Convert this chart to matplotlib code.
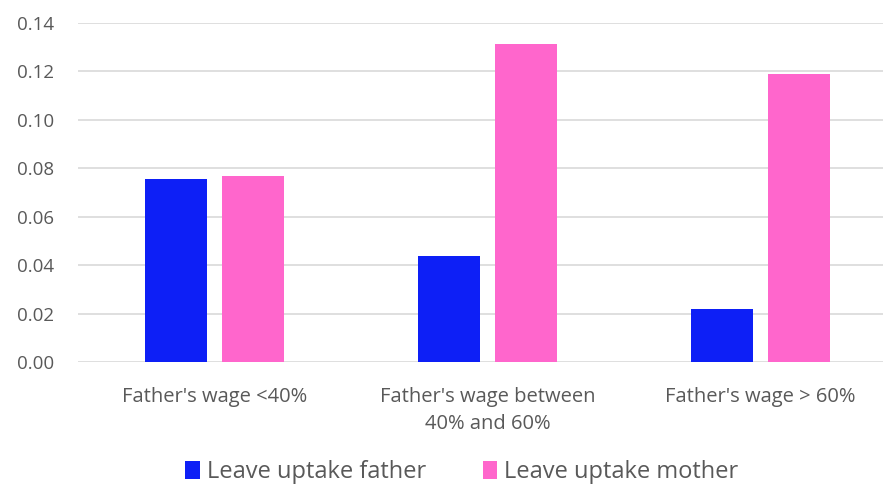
import matplotlib
matplotlib.use("Agg")
import matplotlib.pyplot as plt
import numpy as np

# values
categories = ["Father's wage <40%", "Father's wage between\n40% and 60%", "Father's wage > 60%"]
father = [0.0756, 0.0436, 0.0220]
mother = [0.0769, 0.1313, 0.1189]
series_names = ["Leave uptake father", "Leave uptake mother"]
yticks = [0.00, 0.02, 0.04, 0.06, 0.08, 0.10, 0.12, 0.14]

plt.rcParams['font.family'] = ['Open Sans', 'DejaVu Sans']

fig = plt.figure(figsize=(8.83, 4.93), dpi=100)
ax = fig.add_axes([0.0883, 0.2657, 0.9275, 0.6876])

x = np.arange(len(categories))
w = 0.224
off = 0.141
ax.bar(x - off, father, w, color='#0D1FF6', label=series_names[0], zorder=3)
ax.bar(x + off, mother, w, color='#FF66CC', label=series_names[1], zorder=3)

ax.set_xlim(-0.5, 2.5)
ax.set_ylim(0, 0.14)
ax.set_yticks(yticks)
ax.set_yticklabels(["%.2f" % v for v in yticks])
ax.set_xticks(x)
ax.set_xticklabels(categories, linespacing=1.45)
ax.tick_params(axis='both', length=0, colors='#595959')
ax.tick_params(axis='y', pad=17, labelsize=13.5)
ax.tick_params(axis='x', pad=18, labelsize=14.5)
ax.grid(axis='y', color='#D9D9D9', linewidth=1.2, zorder=0)
for s in ax.spines.values():
    s.set_visible(False)

fig.legend(loc='center', bbox_to_anchor=(0.523, 0.043), ncol=2, frameon=False,
           fontsize=17, handlelength=0.6, handleheight=0.8, handletextpad=0.3,
           columnspacing=2.4, labelcolor='#595959')

fig.savefig('out.png', dpi=100, facecolor='white')
